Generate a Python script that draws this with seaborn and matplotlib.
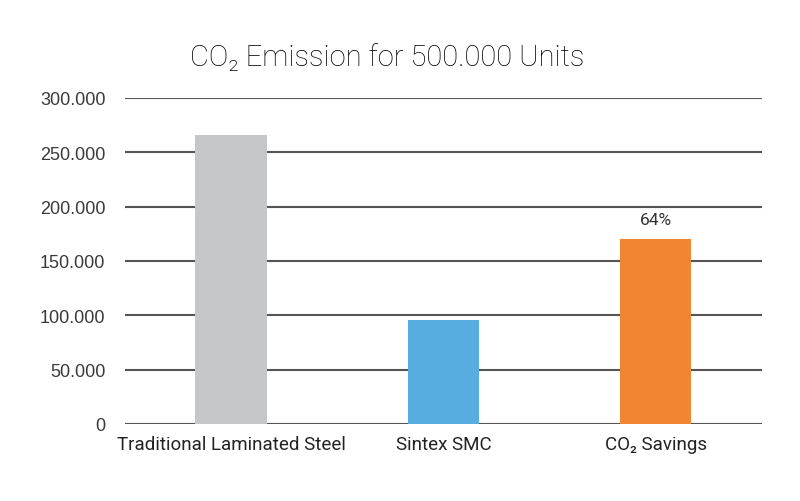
import pandas as pd
import seaborn as sns
import matplotlib.pyplot as plt
from matplotlib.ticker import FuncFormatter, MultipleLocator

# Data
categories = ["Traditional Laminated Steel", "Sintex SMC", "CO₂ Savings"]
emissions = [266000, 96000, 170000]
bar_colors = ["#C6C7C8", "#58ADE0", "#F08532"]
savings_label = "64%"

df = pd.DataFrame({"category": categories, "emission": emissions})

sns.set_style("white")
plt.rcParams["font.family"] = ["Roboto", "DejaVu Sans"]

fig = plt.figure(figsize=(8, 5.02), dpi=100)
ax = fig.add_axes([0.156, 0.1534, 0.7965, 0.6494])

sns.barplot(
    data=df,
    x="category",
    y="emission",
    hue="category",
    palette=dict(zip(categories, bar_colors)),
    width=0.335,
    legend=False,
    saturation=1,
    linewidth=0,
    ax=ax,
)

ax.set_ylim(0, 300000)
ax.yaxis.set_major_locator(MultipleLocator(50000))
ax.yaxis.set_major_formatter(
    FuncFormatter(lambda v, pos: f"{v:,.0f}".replace(",", "."))
)
ax.set_axisbelow(True)
ax.yaxis.grid(True, color="#555555", linewidth=1.5)
ax.xaxis.grid(False)
for s in ax.spines.values():
    s.set_visible(False)
ax.tick_params(axis="both", length=0)
ax.tick_params(axis="y", pad=14)
ax.tick_params(axis="x", pad=8)

for lbl in ax.get_yticklabels():
    lbl.set_fontfamily(["Liberation Sans", "DejaVu Sans"])
    lbl.set_fontsize(13)
    lbl.set_color("#3a3a3a")
for lbl in ax.get_xticklabels():
    lbl.set_fontsize(13.5)
    lbl.set_color("#222222")

ax.set_xlabel("")
ax.set_ylabel("")

# percentage label above the savings bar
ax.annotate(
    savings_label,
    xy=(2, emissions[2]),
    xytext=(0, 9),
    textcoords="offset points",
    ha="center",
    va="bottom",
    fontsize=12.5,
    color="#333333",
)

fig.text(
    0.484, 0.885, "CO₂ Emission for 500.000 Units",
    ha="center", va="center", fontsize=21, fontweight="light", color="#000000",
)

fig.savefig("out.png", dpi=100)
